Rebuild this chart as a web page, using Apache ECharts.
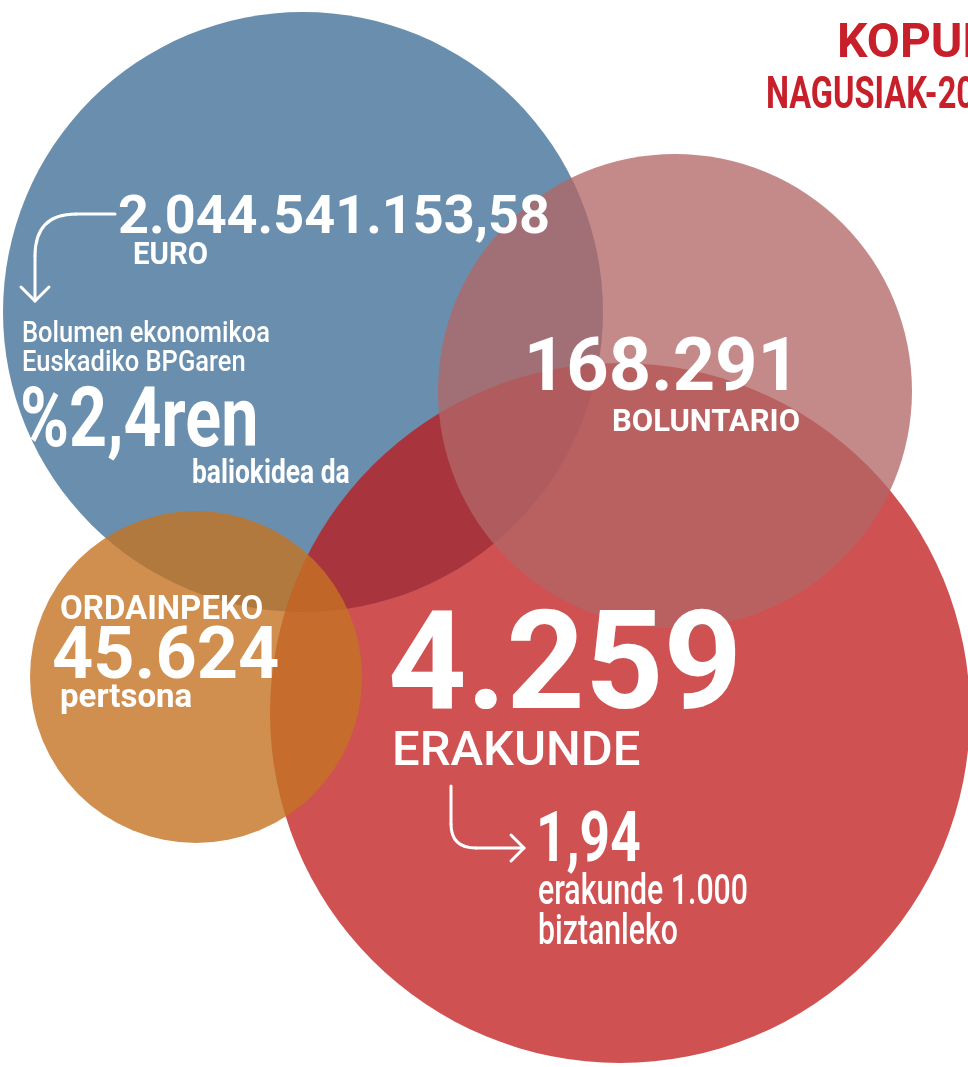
<!DOCTYPE html>
<html>
<head>
<meta charset="utf-8">
<script src="https://cdn.jsdelivr.net/npm/echarts@6/dist/echarts.min.js"></script>
<style>
  html, body { margin: 0; padding: 0; background: #ffffff; }
  #chart { width: 968px; height: 1067px; }
</style>
</head>
<body>
<div id="chart"></div>
<script>
// Zirkuluak (marrazketa ordena: urdina, gorria, arrosa, laranja)
const bubbleNames = ["EURO", "ERAKUNDE", "BOLUNTARIO", "ORDAINPEKO"];
const bubbleX = [303, 620, 675, 196];
const bubbleY = [312, 713, 391, 677];
const bubbleR = [300, 350, 237, 166];
const bubbleColors = ["#6a8fae", "#be1415", "#b26767", "#c47323"];
const bubbleOpacity = [1, 0.74, 0.77, 0.8];

// Testuak
const titleLines = ["KOPURU", "NAGUSIAK-2015"];
const euroValue = "2.044.541.153,58";
const euroUnit = "EURO";
const gdpText = ["Bolumen ekonomikoa", "Euskadiko BPGaren", "%2,4ren", "baliokidea da"];
const volunteerValue = "168.291";
const volunteerUnit = "BOLUNTARIO";
const paidLabel = "ORDAINPEKO";
const paidValue = "45.624";
const paidUnit = "pertsona";
const orgValue = "4.259";
const orgUnit = "ERAKUNDE";
const ratioText = ["1,94", "erakunde 1.000", "biztanleko"];

const W = 968, H = 1067;
const chart = echarts.init(document.getElementById("chart"));

const hiddenAxis = {
    type: "value",
    show: false,
    axisLine: { show: false },
    axisLabel: { show: false },
    axisTick: { show: false },
    splitLine: { show: false }
};

const seriesData = bubbleNames.map((name, i) => ({
    name,
    value: [bubbleX[i], bubbleY[i], bubbleR[i]],
    itemStyle: { color: bubbleColors[i], opacity: bubbleOpacity[i] }
}));

// testua: y = letra larrien goiko ertza
const FONT = "Roboto, 'Noto Sans', sans-serif";
function txt(x, capTop, text, size, weight, opts) {
    opts = opts || {};
    return {
        type: "text",
        x: x,
        y: capTop - 0.05 * size,
        scaleX: opts.sx || 1,
        z: 100,
        style: {
            text: text,
            fill: opts.fill || "#ffffff",
            font: weight + " " + size + "px " + FONT,
            align: opts.align || "left",
            verticalAlign: "top"
        }
    };
}

const lineStyle = { stroke: "#ffffff", lineWidth: 3, fill: null, lineCap: "round", lineJoin: "round" };
function seg(x1, y1, x2, y2) {
    return { type: "line", z: 100, shape: { x1, y1, x2, y2 }, style: lineStyle };
}
function curve(x1, y1, cx, cy, x2, y2) {
    return { type: "bezierCurve", z: 100, shape: { x1, y1, cpx1: cx, cpy1: cy, x2, y2 }, style: lineStyle };
}
function head(points) {
    return { type: "polyline", z: 100, shape: { points }, style: lineStyle };
}

const graphic = [
    txt(837, 23, titleLines[0], 48, "bold", { fill: "#c8202a" }),
    txt(766, 77, titleLines[1], 44, "bold", { fill: "#c8202a", sx: 0.74 }),

    txt(118, 195, euroValue, 54, "bold"),
    txt(133, 242, euroUnit, 31, "bold", { sx: 0.95 }),
    seg(115, 214, 76, 214),
    curve(76, 214, 35, 214, 35, 256),
    seg(35, 256, 35, 301),
    head([[21, 287], [35, 301], [49, 287]]),

    txt(22, 321, gdpText[0], 30, "500", { sx: 0.85 }),
    txt(22, 350, gdpText[1], 30, "500", { sx: 0.85 }),
    txt(20, 388, gdpText[2], 83, "bold", { sx: 0.8 }),
    txt(192, 460, gdpText[3], 33, "bold", { sx: 0.8 }),

    txt(800, 338, volunteerValue, 74, "bold", { align: "right" }),
    txt(800, 409, volunteerUnit, 31, "bold", { align: "right" }),

    txt(60, 596, paidLabel, 33, "bold"),
    txt(52, 628, paidValue, 72, "bold"),
    txt(60, 684, paidUnit, 33, "bold"),

    txt(388, 612, orgValue, 137, "bold"),
    txt(392, 731, orgUnit, 49, "500"),
    seg(451, 786, 451, 824),
    curve(451, 824, 451, 848, 476, 848),
    seg(476, 848, 524, 848),
    head([[511, 835], [524, 848], [511, 861]]),

    txt(536, 812, ratioText[0], 70, "bold", { sx: 0.76 }),
    txt(538, 875, ratioText[1], 42, "500", { sx: 0.72 }),
    txt(538, 915, ratioText[2], 42, "500", { sx: 0.72 })
];

const option = {
    animation: false,
    grid: { left: 0, right: 0, top: 0, bottom: 0 },
    xAxis: Object.assign({}, hiddenAxis, { min: 0, max: W }),
    yAxis: Object.assign({}, hiddenAxis, { min: 0, max: H, inverse: true }),
    series: [{
        type: "scatter",
        data: seriesData,
        symbol: "circle",
        symbolSize: (val) => val[2] * 2,
        silent: true
    }],
    graphic: graphic
};
chart.setOption(option);
</script>
</body>
</html>
